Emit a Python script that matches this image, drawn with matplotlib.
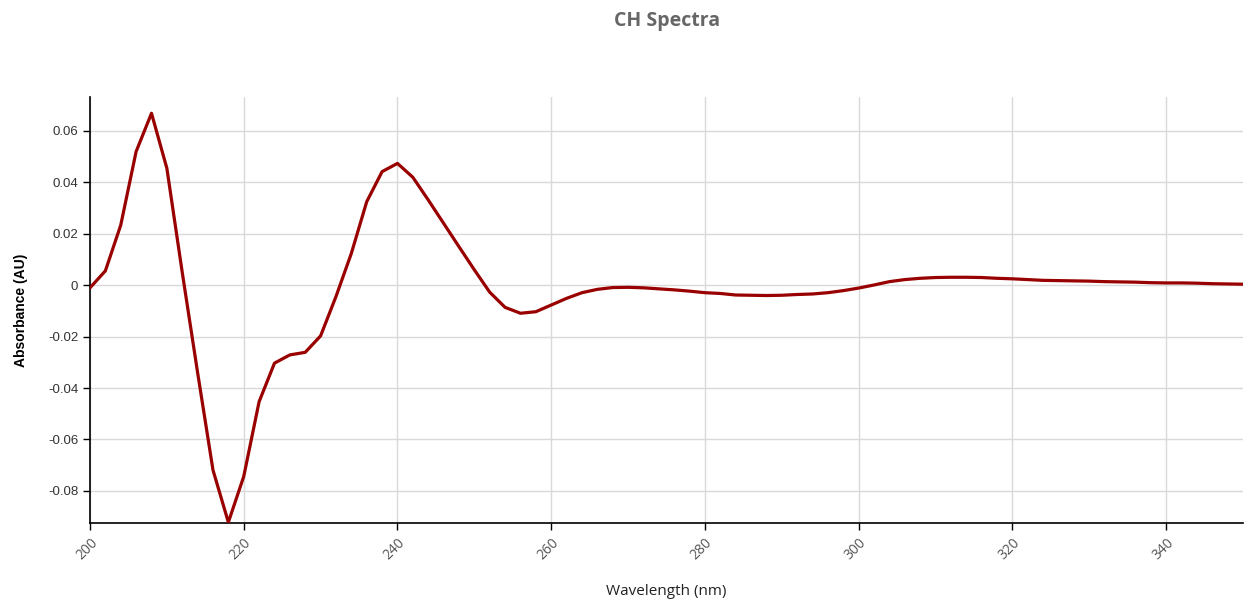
import matplotlib.pyplot as plt
from matplotlib.ticker import FuncFormatter, MultipleLocator

# Wavelength grid (nm) and absorbance
wavelength = list(range(200, 352, 2))
absorbance = [
    -0.0010, 0.0056, 0.0234, 0.0520, 0.0669, 0.0455, 0.0050, -0.0340,
    -0.0719, -0.0922, -0.0744, -0.0453, -0.0303, -0.0271, -0.0261, -0.0197,
    -0.0044, 0.0124, 0.0325, 0.0442, 0.0474, 0.0420, 0.0332, 0.0241,
    0.0150, 0.0060, -0.0027, -0.0086, -0.0109, -0.0103, -0.0077, -0.0051,
    -0.0029, -0.0016, -0.0009, -0.0008, -0.0010, -0.0014, -0.0018, -0.0023,
    -0.0029, -0.0032, -0.0038, -0.0039, -0.0040, -0.0039, -0.0036, -0.0034,
    -0.0029, -0.0021, -0.0011, 0.0001, 0.0014, 0.0022, 0.0027, 0.0030,
    0.0031, 0.0031, 0.0030, 0.0027, 0.0025, 0.0022, 0.0019, 0.0018,
    0.0017, 0.0016, 0.0014, 0.0013, 0.0012, 0.0010, 0.0009, 0.0009,
    0.0008, 0.0006, 0.0005, 0.0004,
]

fig = plt.figure(figsize=(12.5, 6.03), dpi=100)
ax = fig.add_axes([0.072, 0.1322, 0.9224, 0.7064])

ax.plot(wavelength, absorbance, color="#990000", linewidth=2.3, zorder=3)

ax.set_xlim(200, 350)
ax.set_ylim(-0.0926, 0.0731)
ax.xaxis.set_major_locator(MultipleLocator(20))
ax.yaxis.set_major_locator(MultipleLocator(0.02))
ax.yaxis.set_major_formatter(FuncFormatter(lambda v, p: f"{round(v, 4):g}"))

ax.grid(True, color="#d9d9d9", linewidth=1)
ax.set_axisbelow(True)
for s in ["top", "right"]:
    ax.spines[s].set_visible(False)
for s in ["left", "bottom"]:
    ax.spines[s].set_color("black")
    ax.spines[s].set_linewidth(1.2)

ax.tick_params(axis="y", length=5, width=1, labelsize=9.5, labelcolor="#333333",
               labelfontfamily="Liberation Sans")
ax.tick_params(axis="x", length=5, width=1, labelsize=10, labelcolor="#555555",
               labelfontfamily="Open Sans")
for lbl in ax.get_xticklabels():
    lbl.set_rotation(45)
    lbl.set_ha("right")
    lbl.set_rotation_mode("anchor")

ax.set_ylabel("Absorbance (AU)", fontsize=10, fontweight="bold",
              family="Liberation Sans")
ax.yaxis.set_label_coords(-0.054, 0.5)
ax.set_xlabel("Wavelength (nm)", fontsize=11, family="Open Sans", color="#222222")
ax.xaxis.set_label_coords(0.5, -0.142)

fig.text(0.5333, 0.965, "CH Spectra", ha="center", va="center", fontsize=14,
         fontweight="bold", color="#666666", family="Open Sans")

fig.savefig("out.png", dpi=100)
